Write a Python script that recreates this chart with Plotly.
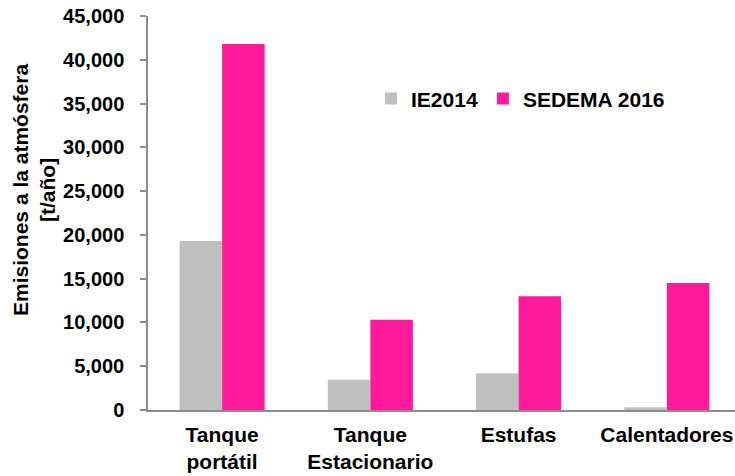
import plotly.graph_objects as go

categories = ["Tanque<br>portátil", "Tanque<br>Estacionario", "Estufas", "Calentadores"]
ie2014 = [19300, 3450, 4200, 320]
sedema2016 = [41800, 10300, 13000, 14500]
series_names = ["IE2014", "SEDEMA 2016"]
y_ticks = [0, 5000, 10000, 15000, 20000, 25000, 30000, 35000, 40000, 45000]

FONT = "Liberation Sans, Arial, sans-serif"
AXIS_COL = "#8C8C8C"
FS = 21

fig = go.Figure()
fig.add_trace(go.Bar(x=categories, y=ie2014, name="<b>" + series_names[0] + "</b>",
                     marker=dict(color="#C0C0C0", line=dict(width=0))))
fig.add_trace(go.Bar(x=categories, y=sedema2016, name="<b>" + series_names[1] + "</b>",
                     marker=dict(color="#FF1A9C", line=dict(width=0))))

fig.update_layout(
    width=735, height=476,
    margin=dict(l=148, r=0, t=16, b=66),
    paper_bgcolor="white", plot_bgcolor="white",
    barmode="group", bargap=0.426, bargroupgap=0,
    font=dict(family=FONT, size=FS, color="black"),
    showlegend=True,
    legend=dict(orientation="h", x=(371 - 148) / 587, y=0.79, xanchor="left", yanchor="middle",
                font=dict(family=FONT, size=FS, color="black"),
                bgcolor="rgba(0,0,0,0)", traceorder="normal", itemwidth=30,
                tracegroupgap=0),
    xaxis=dict(range=[-0.5, 3.46], showline=True, linecolor=AXIS_COL, linewidth=1.5,
               ticks="", showgrid=False, zeroline=False,
               tickfont=dict(family=FONT, size=FS, color="black"),
               ticklabelstandoff=5,
               tickmode="array", tickvals=categories,
               ticktext=["<b>" + c.replace("<br>", "</b><br><b>") + "</b>" for c in categories]),
    yaxis=dict(range=[0, 45000], showline=True, linecolor=AXIS_COL, linewidth=1.5,
               ticks="outside", ticklen=6, tickcolor=AXIS_COL, tickwidth=1.5,
               showgrid=False, zeroline=False,
               tickfont=dict(family=FONT, size=20, color="black"),
               ticklabelstandoff=12,
               tickmode="array", tickvals=y_ticks,
               ticktext=["<b>{:,}</b>".format(v) for v in y_ticks]),
)

fig.add_annotation(
    text="<b>Emisiones a la atmósfera</b><br><b>[t/año]</b>",
    xref="paper", yref="paper", x=-148/587 + 34/587, y=(410-190)/394,
    xanchor="center", yanchor="middle", textangle=-90, showarrow=False,
    font=dict(family=FONT, size=FS, color="black"),
)

fig.write_html("out.html")
